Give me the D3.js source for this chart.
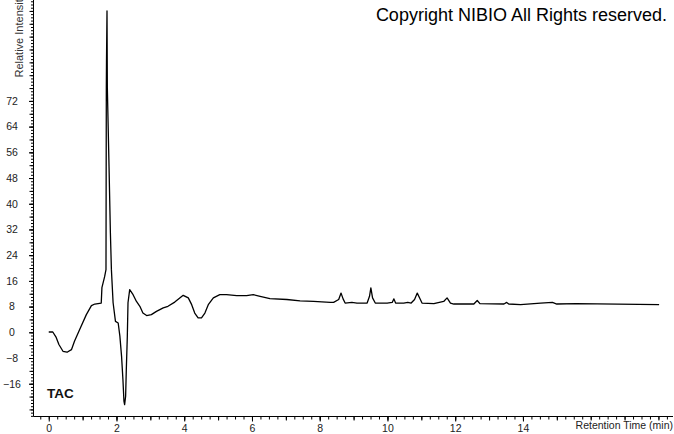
<!DOCTYPE html>
<html>
<head>
<meta charset="utf-8">
<script src="https://cdn.jsdelivr.net/npm/d3@7"></script>
<style>
  body { margin: 0; background: #fff; }
  svg { display: block; font-family: "Liberation Sans", Arial, sans-serif; }
</style>
</head>
<body>
<svg id="chart" width="674" height="434"></svg>
<script>
// chromatogram trace (min, relative intensity)
const retentionTime = [
  0.00, 0.12, 0.22, 0.30, 0.42, 0.54, 0.67, 0.76, 0.91, 1.11, 1.26, 1.36, 1.55, 1.57, 1.65, 1.69,
  1.700, 1.705, 1.72, 1.73, 1.78, 1.82, 1.85, 1.90, 1.97, 2.05, 2.10, 2.15, 2.19, 2.22, 2.24, 2.27,
  2.29, 2.32, 2.34, 2.39, 2.49, 2.59, 2.69, 2.78, 2.89, 3.03, 3.18, 3.38, 3.52, 3.72, 3.97, 4.12,
  4.22, 4.31, 4.41, 4.51, 4.61, 4.71, 4.86, 5.05, 5.25, 5.55, 5.84, 6.04, 6.24, 6.53, 7.03, 7.42,
  7.82, 8.31, 8.41, 8.56, 8.63, 8.69, 8.75, 8.95, 9.10, 9.40, 9.47, 9.51, 9.56, 9.64, 9.99, 10.14,
  10.19, 10.24, 10.48, 10.60, 10.70, 10.80, 10.88, 10.95, 11.02, 11.37, 11.66, 11.76, 11.86, 11.96,
  12.55, 12.65, 12.73, 13.44, 13.52, 13.58, 13.93, 14.52, 14.87, 15.00, 15.58, 18.02
];
const intensity = [
  0.1, 0.1, -1.6, -3.8, -5.9, -6.2, -5.4, -2.8, 0.8, 5.5, 8.3, 8.8, 9.1, 13.9, 17.3, 19.5,
  76.3, 84.1, 100.0, 76.0, 51.5, 31.0, 19.5, 9.2, 3.4, 2.9, -1.2, -7.5, -14.7, -21.4, -22.5, -19.9,
  -11.6, -1.2, 9.2, 13.3, 11.7, 9.6, 8.1, 6.0, 5.2, 5.5, 6.5, 7.6, 8.1, 9.4, 11.5, 10.7,
  8.6, 6.0, 4.5, 4.5, 6.0, 8.6, 10.7, 11.7, 11.7, 11.4, 11.4, 11.7, 11.2, 10.5, 10.2, 9.8,
  9.6, 9.3, 9.3, 10.2, 12.2, 10.4, 9.1, 9.3, 9.1, 9.1, 11.2, 13.8, 10.7, 9.1, 9.1, 9.3,
  10.4, 9.1, 9.1, 9.3, 9.1, 10.2, 12.2, 10.7, 9.1, 8.9, 9.6, 10.7, 9.1, 8.8,
  8.8, 9.9, 8.9, 8.8, 9.3, 8.8, 8.6, 9.1, 9.3, 8.8, 8.9, 8.6
];
const xTickLabels = [0, 2, 4, 6, 8, 10, 12, 14];
const yTickLabels = [-16, -8, 0, 8, 16, 24, 32, 40, 48, 56, 64, 72];

const data = retentionTime.map((t, i) => ({ t: t, v: intensity[i] }));

const svg = d3.select("#chart");
const plotLeft = 33.5, plotBottom = 416.5, plotRight = 673, plotTop = 0;

const x = d3.scaleLinear().domain([-0.45, 18.43]).range([plotLeft, plotRight]);
const y = d3.scaleLinear().domain([-26.2, 103.4]).range([plotBottom, plotTop]);

// x axis: minor 0.25, medium 1, labelled 2
const xMinor = d3.range(-0.25, 18.3, 0.25);
const xMid = d3.range(1, 18.3, 1);

svg.append("g")
  .attr("transform", `translate(0,${plotBottom})`)
  .call(d3.axisBottom(x).tickValues(xMinor).tickSize(3).tickFormat("").tickSizeOuter(0))
  .call(g => g.select(".domain").remove());
svg.append("g")
  .attr("transform", `translate(0,${plotBottom})`)
  .call(d3.axisBottom(x).tickValues(xMid).tickSize(4).tickFormat("").tickSizeOuter(0))
  .call(g => g.select(".domain").remove());
svg.append("g")
  .attr("transform", `translate(0,${plotBottom})`)
  .call(d3.axisBottom(x).tickValues(xTickLabels).tickSize(5).tickPadding(3).tickSizeOuter(0))
  .call(g => g.select(".domain").remove())
  .call(g => g.selectAll("text").attr("font-size", "10.5px").attr("fill", "#222")
    .attr("font-family", "Liberation Sans, Arial, sans-serif"));

// y axis: minor 1, medium 4, labelled 8
const yMinor = d3.range(-26, 104, 1);
const yMid = d3.range(-24, 104, 4);

svg.append("g")
  .attr("transform", `translate(${plotLeft},0)`)
  .call(d3.axisLeft(y).tickValues(yMinor).tickSize(2.5).tickFormat("").tickSizeOuter(0))
  .call(g => g.select(".domain").remove());
svg.append("g")
  .attr("transform", `translate(${plotLeft},0)`)
  .call(d3.axisLeft(y).tickValues(yMid).tickSize(4).tickFormat("").tickSizeOuter(0))
  .call(g => g.select(".domain").remove());
svg.append("g")
  .attr("transform", `translate(${plotLeft},0)`)
  .call(d3.axisLeft(y).tickValues(yTickLabels).tickSize(4.5).tickFormat(d3.format("d")).tickSizeOuter(0))
  .call(g => g.select(".domain").remove())
  .call(g => g.selectAll("text").attr("x", -21.5).attr("text-anchor", "middle")
    .attr("font-size", "10.5px").attr("fill", "#222")
    .attr("font-family", "Liberation Sans, Arial, sans-serif"));

// axis lines
svg.append("line").attr("x1", plotLeft).attr("x2", plotLeft).attr("y1", plotTop).attr("y2", plotBottom)
  .attr("stroke", "#000").attr("stroke-width", 1);
svg.append("line").attr("x1", plotLeft).attr("x2", plotRight).attr("y1", plotBottom).attr("y2", plotBottom)
  .attr("stroke", "#000").attr("stroke-width", 1);

// trace
const line = d3.line().x(d => x(d.t)).y(d => y(d.v));
svg.append("path")
  .datum(data)
  .attr("d", line)
  .attr("fill", "none")
  .attr("stroke", "#000")
  .attr("stroke-width", 1.3)
  .attr("stroke-linejoin", "round");

// texts
svg.append("text")
  .attr("transform", "translate(22.5,77.5) rotate(-90)")
  .attr("font-size", "11px").attr("fill", "#333")
  .text("Relative Intensity");

svg.append("text")
  .attr("x", 673).attr("y", 429)
  .attr("text-anchor", "end")
  .attr("font-size", "10.5px").attr("fill", "#222")
  .text("Retention Time (min)");

svg.append("text")
  .attr("x", 47).attr("y", 398)
  .attr("font-size", "13.5px").attr("font-weight", "bold").attr("fill", "#111")
  .text("TAC");

svg.append("text")
  .attr("x", 667).attr("y", 21)
  .attr("text-anchor", "end")
  .attr("font-size", "18px").attr("fill", "#000")
  .text("Copyright NIBIO All Rights reserved.");
</script>
</body>
</html>
